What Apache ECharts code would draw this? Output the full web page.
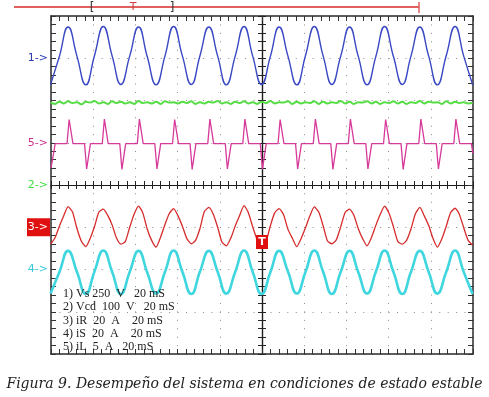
<!DOCTYPE html>
<html>
<head>
<meta charset="utf-8">
<script src="https://cdn.jsdelivr.net/npm/echarts@6/dist/echarts.min.js"></script>
<style>
    html, body {margin: 0; padding: 0; background: #fff;}
    #chart {width: 489px; height: 397px;}
</style>
</head>
<body>
<div id="chart"></div>
<script>
// scope capture: 10 div x 20 mS horizontal, 8 div vertical (values in divisions)
var fineTimes = [-0.2, 1.9, 4.0, 6.1, 8.1, 10.2, 12.3, 14.4, 16.5, 18.6, 20.6, 22.7, 24.8, 26.9, 29.0, 31.0,
    33.1, 35.2, 37.3, 39.4, 41.5, 43.5, 45.6, 47.7, 49.8, 51.9, 54.0, 56.0, 58.1, 60.2, 62.3, 64.4,
    66.5, 68.5, 70.6, 72.7, 74.8, 76.9, 79.0, 81.0, 83.1, 85.2, 87.3, 89.4, 91.5, 93.5, 95.6, 97.7,
    99.8, 101.9, 104.0, 106.0, 108.1, 110.2, 112.3, 114.4, 116.5, 118.5, 120.6, 122.7, 124.8, 126.9, 129.0, 131.0,
    133.1, 135.2, 137.3, 139.4, 141.5, 143.5, 145.6, 147.7, 149.8, 151.9, 154.0, 156.0, 158.1, 160.2, 162.3, 164.4,
    166.5, 168.5, 170.6, 172.7, 174.8, 176.9, 179.0, 181.0, 183.1, 185.2, 187.3, 189.4, 191.5, 193.5, 195.6, 197.7,
    199.8];
var coarseTimes = fineTimes.filter(function (t, i) {
    return i % 2 === 0;
});

// 1) Vs
var vsValues = [2.38, 3.05, 3.74, 3.05, 2.37, 3.06, 3.75, 3.05, 2.38, 3.05, 3.74, 3.04, 2.37, 3.05, 3.75, 3.05,
    2.38, 3.06, 3.74, 3.05, 2.37, 3.05, 3.75, 3.05, 2.38, 3.05, 3.74, 3.05, 2.37, 3.06, 3.75, 3.05,
    2.38, 3.05, 3.74, 3.05, 2.37, 3.05, 3.75, 3.04, 2.38, 3.05, 3.74, 3.05, 2.37, 3.06, 3.75, 3.05, 2.38];
// 2) Vcd
var vcdValues = [1.96, 1.92, 1.97, 1.93, 1.98, 1.94, 1.96, 1.91, 1.97, 1.95, 1.99, 1.93, 1.96, 1.92, 1.98, 1.94,
    1.97, 1.93, 1.96, 1.92, 1.99, 1.94, 1.96, 1.93, 1.97, 1.92, 1.98, 1.95, 1.96, 1.93, 1.97, 1.94,
    1.98, 1.92, 1.96, 1.93, 1.97, 1.95, 1.99, 1.93, 1.96, 1.92, 1.97, 1.94, 1.98, 1.93, 1.96, 1.92,
    1.97, 1.94, 1.99, 1.93, 1.96, 1.95, 1.98, 1.92, 1.97, 1.93, 1.96, 1.94, 1.98, 1.92, 1.97, 1.93,
    1.96, 1.94, 1.99, 1.93, 1.97, 1.92, 1.96, 1.95, 1.98, 1.93, 1.97, 1.92, 1.96, 1.94, 1.98, 1.93,
    1.97, 1.92, 1.96, 1.94, 1.99, 1.93, 1.97, 1.95, 1.96, 1.92, 1.98, 1.93, 1.97, 1.94, 1.96, 1.93,
    1.95];
// 3) iR
var iRValues = [-1.40, -1.25, -0.97, -0.72, -0.51, -0.64, -1.03, -1.33,
    -1.46, -1.26, -0.99, -0.64, -0.57, -0.72, -0.95, -1.25,
    -1.40, -1.34, -1.00, -0.69, -0.50, -0.66, -1.04, -1.31,
    -1.47, -1.24, -0.94, -0.68, -0.56, -0.73, -0.98, -1.27,
    -1.39, -1.31, -1.03, -0.63, -0.53, -0.69, -1.00, -1.35,
    -1.44, -1.26, -0.97, -0.72, -0.49, -0.65, -0.99, -1.29,
    -1.41, -1.33, -0.96, -0.66, -0.56, -0.70, -1.05, -1.26,
    -1.46, -1.27, -1.01, -0.73, -0.52, -0.64, -0.97, -1.32,
    -1.39, -1.30, -0.99, -0.65, -0.57, -0.71, -1.03, -1.27,
    -1.44, -1.24, -0.95, -0.70, -0.50, -0.67, -0.99, -1.34,
    -1.40, -1.31, -1.04, -0.68, -0.53, -0.73, -0.96, -1.26,
    -1.47, -1.28, -0.98, -0.65, -0.55, -0.69, -1.01, -1.31,
    -1.42];
// 4) iS
var iSValues = [-2.57, -2.06, -1.56, -2.06, -2.58, -2.05, -1.55, -2.06, -2.58, -2.06, -1.56, -2.07, -2.57, -2.06, -1.55, -2.06,
    -2.58, -2.05, -1.56, -2.06, -2.57, -2.06, -1.55, -2.06, -2.58, -2.06, -1.56, -2.05, -2.57, -2.06, -1.55, -2.06,
    -2.58, -2.06, -1.56, -2.06, -2.57, -2.05, -1.55, -2.06, -2.58, -2.06, -1.56, -2.06, -2.57, -2.06, -1.55, -2.06, -2.58];
// 5) iL  [ms, div]
var iLPoints = [[0, 0.40], [0.9, 0.38], [2.0, 0.98],
    [7.6, 0.98], [8.6, 1.55], [9.4, 1.56], [10.4, 0.98], [15.9, 0.98], [16.9, 0.38], [17.7, 0.37], [18.7, 0.98],
    [24.3, 0.98], [25.3, 1.56], [26.1, 1.55], [27.1, 0.98], [32.6, 0.98], [33.6, 0.37], [34.4, 0.38], [35.4, 0.98],
    [40.9, 0.98], [41.9, 1.56], [42.7, 1.56], [43.7, 0.98], [49.2, 0.98], [50.2, 0.38], [51.0, 0.37], [52.0, 0.98],
    [57.6, 0.98], [58.6, 1.55], [59.4, 1.56], [60.4, 0.98], [65.9, 0.98], [66.9, 0.37], [67.7, 0.38], [68.7, 0.98],
    [74.3, 0.98], [75.3, 1.56], [76.1, 1.55], [77.1, 0.98], [82.6, 0.98], [83.6, 0.38], [84.4, 0.37], [85.4, 0.98],
    [90.9, 0.98], [91.9, 1.56], [92.7, 1.56], [93.7, 0.98], [99.2, 0.98], [100.2, 0.37], [101.0, 0.38], [102.0, 0.98],
    [107.6, 0.98], [108.6, 1.55], [109.4, 1.56], [110.4, 0.98], [115.9, 0.98], [116.9, 0.38], [117.7, 0.37], [118.7, 0.98],
    [124.3, 0.98], [125.3, 1.56], [126.1, 1.55], [127.1, 0.98], [132.6, 0.98], [133.6, 0.37], [134.4, 0.38], [135.4, 0.98],
    [140.9, 0.98], [141.9, 1.56], [142.7, 1.56], [143.7, 0.98], [149.2, 0.98], [150.2, 0.38], [151.0, 0.37], [152.0, 0.98],
    [157.6, 0.98], [158.6, 1.55], [159.4, 1.56], [160.4, 0.98], [165.9, 0.98], [166.9, 0.37], [167.7, 0.38], [168.7, 0.98],
    [174.3, 0.98], [175.3, 1.56], [176.1, 1.55], [177.1, 0.98], [182.6, 0.98], [183.6, 0.38], [184.4, 0.37], [185.4, 0.98],
    [190.9, 0.98], [191.9, 1.56], [192.7, 1.56], [193.7, 0.98], [199.2, 0.98], [200, 0.75]];

var channelNames = ['1->', '5->', '2->', '3->', '4->'];
var channelLevels = [3, 1, 0, -1, -2];
var channelColors = ['#2b3ab0', '#c8308a', '#44dd44', '#ffffff', '#38c8d8'];
var legendLines = ['1) Vs 250  V   20 mS', '2) Vcd  100  V   20 mS', '3) iR  20  A    20 mS',
    '4) iS  20  A    20 mS', '5) iL  5  A   20 mS'];
var caption = 'Figura 9. Desempeño del sistema en condiciones de estado estable';

function pairs(times, values) {
    return values.map(function (v, i) {
        return [times[i], v];
    });
}

function frameAxis(position, dim, extra) {
    var axis = {
        type: 'value',
        position: position,
        min: dim === 'x' ? 0 : -4,
        max: dim === 'x' ? 200 : 4,
        interval: dim === 'x' ? 20 : 1,
        axisLine: {show: true, onZero: false, lineStyle: {color: '#2a2a2a', width: 1.5}},
        axisTick: {show: true, inside: true, length: 5, lineStyle: {color: '#333'}},
        minorTick: {show: true, splitNumber: 5, length: 5, lineStyle: {color: '#333'}},
        axisLabel: {show: false},
        splitLine: {show: false}
    };
    return Object.assign(axis, extra || {});
}

function centerAxis(position, dim, inside, zeroIndex) {
    return frameAxis(position, dim, {
        axisLine: {show: true, onZero: true, onZeroAxisIndex: zeroIndex, lineStyle: {color: '#1a1a1a', width: 1.2}},
        axisTick: {show: true, inside: inside, length: 4, lineStyle: {color: '#222'}},
        minorTick: {show: true, splitNumber: 5, length: 4, lineStyle: {color: '#222'}}
    });
}

var dotted = {show: true, lineStyle: {color: '#8a8a8a', width: 1, type: [1, 7.44]}};

var chart = echarts.init(document.getElementById('chart'));
chart.setOption({
    animation: false,
    backgroundColor: '#ffffff',
    grid: {left: 51, top: 16, width: 422, height: 338},
    title: {
        text: caption, left: 'center', top: 372,
        textStyle: {fontFamily: 'DejaVu Serif', fontStyle: 'italic', fontWeight: 'normal', fontSize: 14, color: '#222'}
    },
    xAxis: [
        frameAxis('bottom', 'x', {splitLine: dotted}),
        frameAxis('top', 'x'),
        centerAxis('bottom', 'x', true, 0),
        centerAxis('bottom', 'x', false, 0),
        {type: 'value', position: 'top', min: -100, max: 100, show: false}
    ],
    yAxis: [
        frameAxis('left', 'y', {splitLine: dotted}),
        frameAxis('right', 'y'),
        centerAxis('left', 'y', true, 4),
        centerAxis('left', 'y', false, 4)
    ],
    series: [
        {name: 'iL', type: 'line', data: iLPoints, showSymbol: false,
            lineStyle: {color: '#d63a9a', width: 1.3}},
        {name: 'Vcd', type: 'line', data: pairs(fineTimes, vcdValues), showSymbol: false, smooth: true,
            lineStyle: {color: '#55dd44', width: 2}},
        {name: 'Vs', type: 'line', data: pairs(coarseTimes, vsValues), showSymbol: false, smooth: true,
            lineStyle: {color: '#3a48c4', width: 1.4}},
        {name: 'iR', type: 'line', data: pairs(fineTimes, iRValues), showSymbol: false, smooth: 0.2,
            lineStyle: {color: '#d62b2b', width: 1.3}},
        {name: 'iS', type: 'line', data: pairs(coarseTimes, iSValues), showSymbol: false, smooth: true,
            lineStyle: {color: '#3fd6df', width: 2.6}}
    ]
});

// channel markers, legend block and trigger decorations
var graphics = [];
channelNames.forEach(function (name, i) {
    var y = chart.convertToPixel({yAxisIndex: 0}, channelLevels[i]);
    if (name === '3->') {
        graphics.push({type: 'rect', shape: {x: 27, y: y - 9, width: 23, height: 18}, style: {fill: '#e01010'}, z: 100});
    }
    graphics.push({
        type: 'text', x: 48, y: y, z: 101,
        style: {text: name, fill: channelColors[i], font: '11px "DejaVu Sans"', align: 'right', verticalAlign: 'middle'}
    });
});
legendLines.forEach(function (line, i) {
    graphics.push({
        type: 'text', x: 63, y: 294 + i * 13.3, z: 100,
        style: {text: line, fill: '#222', font: '12px "Liberation Serif"', verticalAlign: 'middle'}
    });
});
var trig = chart.convertToPixel({xAxisIndex: 0, yAxisIndex: 0}, [100, -1.35]);
graphics.push({type: 'rect', shape: {x: trig[0] - 6, y: trig[1] - 7, width: 12, height: 14}, style: {fill: '#e01010'}, z: 100});
graphics.push({type: 'text', x: trig[0], y: trig[1], z: 101,
    style: {text: 'T', fill: '#fff', font: 'bold 11px "DejaVu Sans"', align: 'center', verticalAlign: 'middle'}});
graphics.push({type: 'line', shape: {x1: 14, y1: 7, x2: 419, y2: 7}, style: {stroke: '#e06060', lineWidth: 2}});
graphics.push({type: 'line', shape: {x1: 419, y1: 2, x2: 419, y2: 13}, style: {stroke: '#e06060', lineWidth: 1.5}});
graphics.push({type: 'text', x: 92, y: 8, style: {text: '[', fill: '#333', font: '12px "DejaVu Sans"', align: 'center', verticalAlign: 'middle'}});
graphics.push({type: 'text', x: 133, y: 7, style: {text: 'T', fill: '#d04040', font: '11px "DejaVu Sans"', align: 'center', verticalAlign: 'middle'}});
graphics.push({type: 'text', x: 172, y: 8, style: {text: ']', fill: '#333', font: '12px "DejaVu Sans"', align: 'center', verticalAlign: 'middle'}});
chart.setOption({graphic: graphics});
</script>
</body>
</html>
